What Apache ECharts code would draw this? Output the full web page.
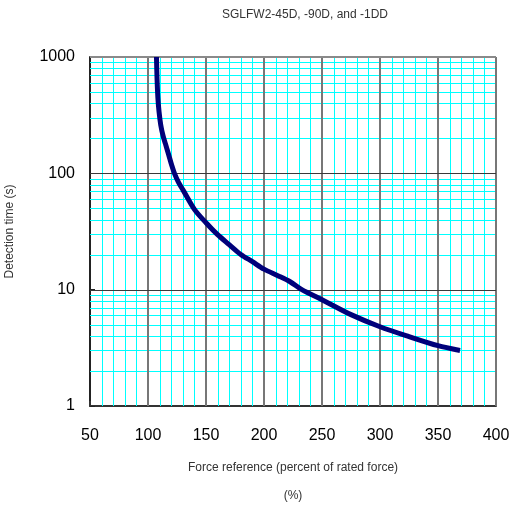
<!DOCTYPE html>
<html><head><meta charset="utf-8">
<script src="https://cdn.jsdelivr.net/npm/echarts@6/dist/echarts.min.js"></script>
<style>html,body{margin:0;padding:0;background:#fff}#c{width:513px;height:511px}</style>
</head><body><div id="c"></div>
<script>
const titleText = 'SGLFW2-45D, -90D, and -1DD';
const xName = 'Force reference (percent of rated force)\n(%)';
const yName = 'Detection time (s)';
const forceRef = [107.3, 107.8, 108.5, 109.5, 111, 113, 115, 117.7, 120.6, 122.8, 126.2, 130.5, 140, 150, 160, 170, 180, 190, 200, 212, 222.5, 232.6, 250, 275, 300, 325, 350, 369];
const detectTime = [1000, 650, 450, 340, 260, 210, 180, 146, 116, 100, 84, 71, 49, 37.6, 29.7, 24.4, 20.1, 17.4, 15, 13.2, 11.7, 10, 8.2, 6.1, 4.8, 3.95, 3.3, 3.0];
const xMajorGrid = [100, 150, 200, 250, 300, 350, 400];
const xMinorGrid = [60, 70, 80, 90, 110, 120, 130, 140, 160, 170, 180, 190, 210, 220, 230, 240, 260, 270, 280, 290, 310, 320, 330, 340, 360, 370, 380, 390];
const yMajorGrid = [10, 100];
const yTopBorder = [1000];
const yMinorMultipliers = [2, 3, 4, 5, 6, 7, 8, 9];
const yDecades = [1, 10, 100];
const yMinorGrid = [];
yDecades.forEach(d => yMinorMultipliers.forEach(m => yMinorGrid.push(m * d)));

const font = 'Liberation Sans, Arial, sans-serif';

function gridLineSeries(values, dir, color, width) {
  return {
    type: 'custom', silent: true, z: 1, clip: false,
    data: values.map(v => dir === 'v' ? [v, 1] : [50, v]),
    renderItem: function (params, api) {
      const cs = params.coordSys;
      const p = api.coord([api.value(0), api.value(1)]);
      const off = (width % 2 === 1) ? 0.5 : 0;
      const style = { stroke: color, lineWidth: width, fill: null };
      if (dir === 'v') {
        const x = Math.round(p[0]) + off;
        return { type: 'line', shape: { x1: x, y1: cs.y, x2: x, y2: cs.y + cs.height }, style: style };
      }
      const y = Math.round(p[1]) + off;
      return { type: 'line', shape: { x1: cs.x, y1: y, x2: cs.x + cs.width, y2: y }, style: style };
    }
  };
}

const chart = echarts.init(document.getElementById('c'));
chart.setOption({
  animation: false,
  title: { text: titleText, left: 300, textAlign: 'center', top: 4,
    textStyle: { fontSize: 12, fontWeight: 'normal', color: '#333', fontFamily: font } },
  grid: { left: 90, right: 17, top: 57, bottom: 105, outerBoundsMode: 'none', containLabel: false },
  xAxis: {
    type: 'value', min: 50, max: 400, interval: 50,
    name: xName, nameLocation: 'middle', nameGap: 48,
    nameTextStyle: { fontSize: 12, color: '#333', fontFamily: font, lineHeight: 28 },
    axisLine: { show: true, lineStyle: { color: '#333', width: 2 } },
    axisTick: { show: true, inside: true, length: 5, lineStyle: { color: '#333', width: 2 } },
    axisLabel: { fontSize: 16, color: '#000', margin: 22, fontFamily: font },
    splitLine: { show: false }, minorTick: { show: false }, minorSplitLine: { show: false }
  },
  yAxis: {
    type: 'log', logBase: 10, min: 1, max: 1000,
    name: yName, nameLocation: 'middle', nameGap: 74,
    nameTextStyle: { fontSize: 12, color: '#333', fontFamily: font },
    axisLine: { show: true, lineStyle: { color: '#222', width: 2 } },
    axisTick: { show: true, inside: true, length: 5, lineStyle: { color: '#222' } },
    axisLabel: { fontSize: 16, color: '#000', margin: 15, fontFamily: font, formatter: v => String(v) },
    splitLine: { show: false }, minorTick: { show: false }, minorSplitLine: { show: false }
  },
  series: [
    gridLineSeries(xMinorGrid, 'v', '#00ffff', 1),
    gridLineSeries(yMinorGrid, 'h', '#00ffff', 1),
    gridLineSeries(xMajorGrid, 'v', '#777777', 2),
    gridLineSeries(yMajorGrid, 'h', '#3a3a3a', 1),
    gridLineSeries(yTopBorder, 'h', '#8a8a8a', 2),
    {
      type: 'line', data: forceRef.map((x, i) => [x, detectTime[i]]),
      smooth: 0.3, showSymbol: false, symbol: 'none',
      lineStyle: { color: '#00007a', width: 5 }, z: 5
    }
  ]
});
</script></body></html>
